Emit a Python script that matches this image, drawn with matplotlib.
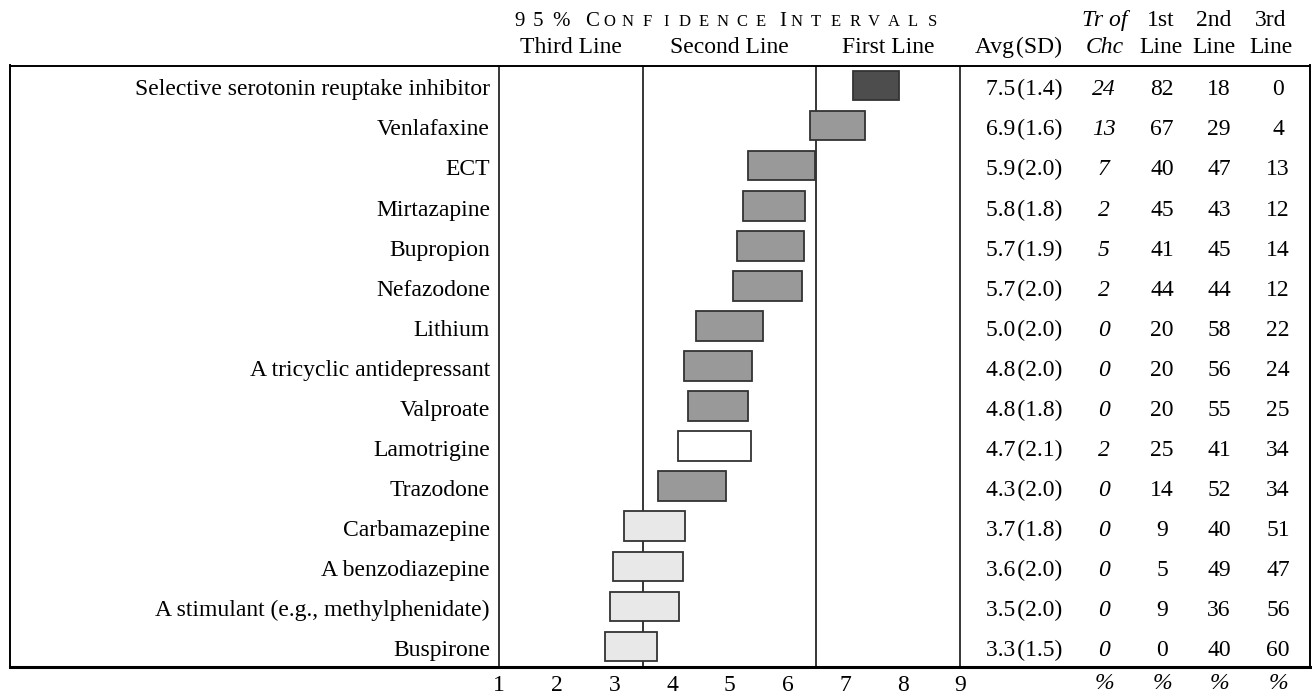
import matplotlib
matplotlib.use('Agg')
import matplotlib.pyplot as plt
import numpy as np

plt.rcParams['font.family'] = ['Liberation Serif', 'DejaVu Serif']

# données
treatments = ['Selective serotonin reuptake inhibitor', 'Venlafaxine', 'ECT', 'Mirtazapine',
              'Bupropion', 'Nefazodone', 'Lithium', 'A tricyclic antidepressant', 'Valproate',
              'Lamotrigine', 'Trazodone', 'Carbamazepine', 'A benzodiazepine',
              'A stimulant (e.g., methylphenidate)', 'Buspirone']
ci_low = [7.14, 6.40, 5.31, 5.23, 5.13, 5.05, 4.42, 4.21, 4.28, 4.10, 3.76, 3.16, 2.98, 2.92, 2.84]
ci_high = [7.94, 7.34, 6.48, 6.30, 6.28, 6.26, 5.58, 5.39, 5.32, 5.36, 4.94, 4.22, 4.19, 4.11, 3.74]
avg = [7.5, 6.9, 5.9, 5.8, 5.7, 5.7, 5.0, 4.8, 4.8, 4.7, 4.3, 3.7, 3.6, 3.5, 3.3]
sd = [1.4, 1.6, 2.0, 1.8, 1.9, 2.0, 2.0, 2.0, 1.8, 2.1, 2.0, 1.8, 2.0, 2.0, 1.5]
tr_of_chc = [24, 13, 7, 2, 5, 2, 0, 0, 0, 2, 0, 0, 0, 0, 0]
first_line = [82, 67, 40, 45, 41, 44, 20, 20, 20, 25, 14, 9, 5, 9, 0]
second_line = [18, 29, 47, 43, 45, 44, 58, 56, 55, 41, 52, 40, 49, 36, 40]
third_line = [0, 4, 13, 12, 14, 12, 22, 24, 25, 34, 34, 51, 47, 56, 60]
bar_colors = ['#4d4d4d'] + ['#999999'] * 8 + ['white'] + ['#999999'] + ['#e8e8e8'] * 4
zone_bounds = [1, 3.5, 6.5, 9]
zone_names = ['Third Line', 'Second Line', 'First Line']

W, H = 1312, 695
fig = plt.figure(figsize=(W / 100, H / 100), dpi=100)

# cadre du tableau en pixels
box_l, box_r, box_t, box_b = 10, 1310, 65.5, 666.5
x1_px, x9_px = 499.3, 960.3
ppu = (x9_px - x1_px) / 8
ax = fig.add_axes([box_l / W, 1 - box_b / H, (box_r - box_l) / W, (box_b - box_t) / H])
ax.set_xlim(1 - (x1_px - box_l) / ppu, 9 + (box_r - x9_px) / ppu)
ax.set_ylim(14.5, -0.5)
row_px = (box_b - box_t) / 15


def px2x(px):
    return 1 + (px - x1_px) / ppu


def px2y(py):
    return -0.5 + (py - box_t) / row_px


n = len(treatments)
rows = np.arange(n)
widths = np.array(ci_high) - np.array(ci_low)
ax.barh(rows, widths, left=ci_low, height=0.74, color=bar_colors,
        edgecolor='#333333', linewidth=1.3, zorder=3)
for xb in zone_bounds:
    ax.axvline(xb, color='black', lw=1.1, zorder=1)

fs = 17
base = 0.245  # décalage de la ligne de base sous le centre de la ligne
hair = '\u200a'
for i in rows:
    y = i + base
    ax.text(px2x(490), y, treatments[i], ha='right', va='baseline', fontsize=fs)
    ax.text(px2x(1062), y, f'{avg[i]:.1f}{hair}({sd[i]:.1f})', ha='right', va='baseline', fontsize=fs)
    ax.text(px2x(1104), y, str(tr_of_chc[i]), ha='center', va='baseline', fontsize=fs, style='italic')
    ax.text(px2x(1162), y, str(first_line[i]), ha='center', va='baseline', fontsize=fs)
    ax.text(px2x(1219), y, str(second_line[i]), ha='center', va='baseline', fontsize=fs)
    ax.text(px2x(1278), y, str(third_line[i]), ha='center', va='baseline', fontsize=fs)

# en-têtes
y_h2 = px2y(53)
y_h1 = px2y(26)
for k, name in enumerate(zone_names):
    ax.text((zone_bounds[k] + zone_bounds[k + 1]) / 2, y_h2, name, ha='center', va='baseline',
            fontsize=fs, clip_on=False)
ax.text(px2x(1062), y_h2, f'Avg{hair}(SD)', ha='right', va='baseline', fontsize=fs, clip_on=False)
ax.text(px2x(1105), y_h1, 'Tr of', ha='center', va='baseline', fontsize=fs, style='italic', clip_on=False)
ax.text(px2x(1105), y_h2, 'Chc', ha='center', va='baseline', fontsize=fs, style='italic', clip_on=False)
for cx, top in zip([1161, 1214, 1271], ['1st', '2nd', '3rd']):
    ax.text(px2x(cx), y_h1, top, ha='center', va='baseline', fontsize=fs, clip_on=False)
    ax.text(px2x(cx), y_h2, 'Line', ha='center', va='baseline', fontsize=fs, clip_on=False)

# titre en petites capitales espacées
big, small = 15, 12
for ch, cx in zip('95%', [520, 538, 561]):
    ax.text(px2x(cx), y_h1, ch, ha='center', va='baseline', fontsize=big, clip_on=False)
ax.text(px2x(592), y_h1, 'C', ha='center', va='baseline', fontsize=big, clip_on=False)
for j, ch in enumerate('ONFIDENCE'):
    ax.text(px2x(609 + 19 * j), y_h1, ch, ha='center', va='baseline', fontsize=small, clip_on=False)
ax.text(px2x(783), y_h1, 'I', ha='center', va='baseline', fontsize=big, clip_on=False)
for j, ch in enumerate('NTERVALS'):
    ax.text(px2x(797 + 19.3 * j), y_h1, ch, ha='center', va='baseline', fontsize=small, clip_on=False)

# axe du bas
ax.set_xticks(range(1, 10))
ax.set_xticklabels([str(v) for v in range(1, 10)], fontsize=fs)
ax.tick_params(axis='x', length=0, pad=6)
ax.set_yticks([])
y_pct = px2y(689)
for cx in [1104, 1162, 1219, 1278]:
    ax.text(px2x(cx), y_pct, '%', ha='center', va='baseline', fontsize=fs, style='italic', clip_on=False)

for s in ['left', 'right', 'top']:
    ax.spines[s].set_linewidth(1.4)
ax.spines['bottom'].set_linewidth(2.2)

fig.savefig('out.png', dpi=100)
